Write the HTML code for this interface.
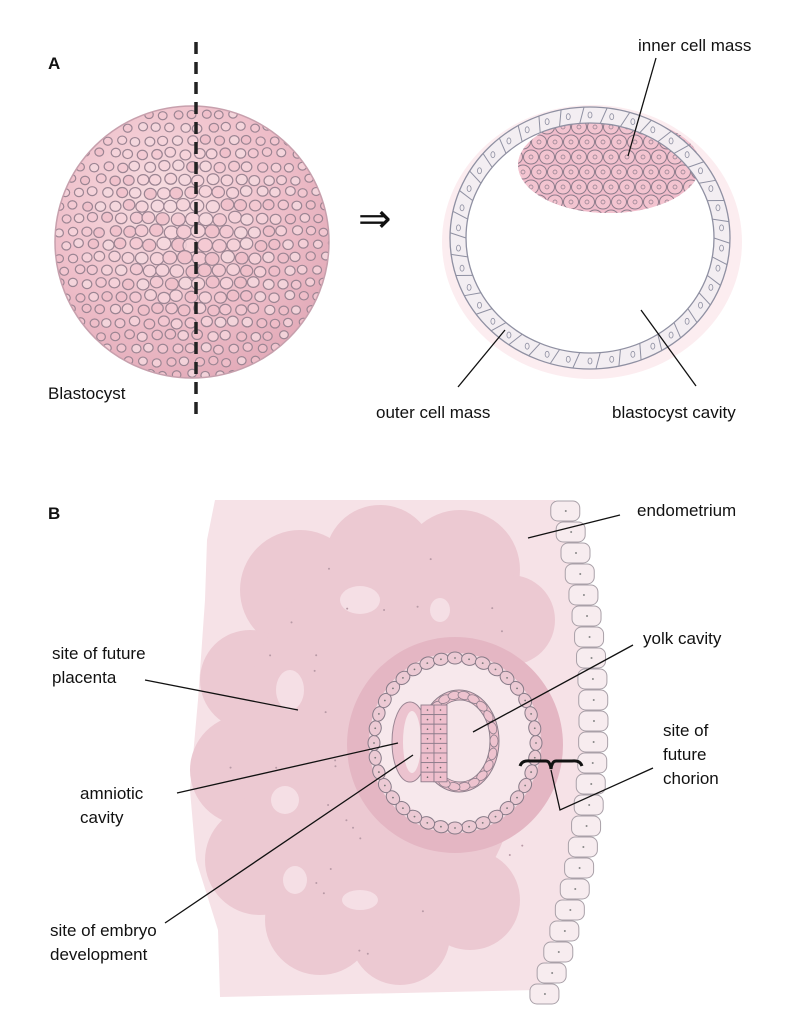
<!DOCTYPE html>
<html><head><meta charset="utf-8"><style>
html,body{margin:0;padding:0;background:#fff;}
svg{display:block;}
text{font-family:"Liberation Sans",sans-serif;font-size:17px;fill:#111;}
</style></head><body>
<svg id="s" width="808" height="1024" viewBox="0 0 808 1024" xmlns="http://www.w3.org/2000/svg">
<defs>
<clipPath id="sph"><ellipse cx="192" cy="242" rx="137" ry="136"/></clipPath>
<clipPath id="icm"><ellipse cx="609" cy="165" rx="91" ry="48"/></clipPath>
<radialGradient id="sg" cx="0.4" cy="0.35" r="0.7">
<stop offset="0" stop-color="#f7dfe2"/><stop offset="0.6" stop-color="#efbfca"/><stop offset="1" stop-color="#e2aab8"/></radialGradient>
</defs>
<!-- Section A -->
<text x="48" y="69" style="font-weight:bold">A</text>
<ellipse cx="192" cy="242" rx="137" ry="136" fill="url(#sg)"/>
<g id="sphcells" clip-path="url(#sph)"></g>
<ellipse cx="192" cy="242" rx="137" ry="136" fill="none" stroke="#c7a0ad" stroke-width="1.5"/>
<line x1="196" y1="42" x2="196" y2="418" stroke="#222" stroke-width="3.5" stroke-dasharray="12,8"/>
<text x="48" y="399">Blastocyst</text>
<text x="358" y="232" style="font-size:40px">⇒</text>

<ellipse cx="592" cy="242" rx="150" ry="137" fill="#fcedf0"/>
<ellipse cx="590" cy="238" rx="132" ry="123" fill="#fff"/>
<ellipse cx="609" cy="165" rx="91" ry="48" fill="#f1bccb"/>
<g id="icmcells" clip-path="url(#icm)"></g>
<ellipse cx="590" cy="238" rx="132" ry="123" fill="none" stroke="#f3eef2" stroke-width="16"/>
<ellipse cx="590" cy="238" rx="140" ry="131" fill="none" stroke="#8f90a2" stroke-width="1.3"/>
<ellipse cx="590" cy="238" rx="124" ry="115" fill="none" stroke="#8f90a2" stroke-width="1.3"/>
<g id="ring"></g>
<text x="638" y="51">inner cell mass</text>
<line x1="656" y1="58" x2="628" y2="156" stroke="#111" stroke-width="1.3"/>
<text x="376" y="418">outer cell mass</text>
<line x1="458" y1="387" x2="505" y2="330" stroke="#111" stroke-width="1.3"/>
<text x="612" y="418">blastocyst cavity</text>
<line x1="696" y1="386" x2="641" y2="310" stroke="#111" stroke-width="1.3"/>

<!-- Section B -->
<text x="48" y="519" style="font-weight:bold">B</text>
<path id="bg" fill="#f6e2e7"/>
<g id="blob" fill="#ecc9d2"></g>
<g id="holes" fill="#f5dfe5"></g>
<g id="dots" fill="#b89aa6"></g>
<ellipse cx="455" cy="745" rx="108" ry="108" fill="#e4b6c3"/>
<ellipse cx="455" cy="743" rx="86" ry="90" fill="#f4dde4" />
<ellipse cx="455" cy="743" rx="76" ry="80" fill="#f7e8ec"/>
<g id="outring"></g>
<ellipse cx="459" cy="741" rx="40" ry="51" fill="#ecbfcc" stroke="#8e7f8c" stroke-width="1"/>
<ellipse cx="460" cy="741" rx="30" ry="41" fill="#f6e6ea" stroke="#8e7f8c" stroke-width="1"/>
<g id="yolkring"></g>
<ellipse cx="410" cy="742" rx="18" ry="40" fill="#ecc3cf" stroke="#9a8593" stroke-width="1"/>
<ellipse cx="412" cy="742" rx="9" ry="31" fill="#f6e6ea"/>
<g id="amn"></g>
<g id="endo"></g>

<text x="637" y="516">endometrium</text>
<line x1="620" y1="515" x2="528" y2="538" stroke="#111" stroke-width="1.3"/>
<text x="643" y="644">yolk cavity</text>
<line x1="633" y1="645" x2="473" y2="732" stroke="#111" stroke-width="1.3"/>
<text x="663" y="736">site of</text>
<text x="663" y="760">future</text>
<text x="663" y="784">chorion</text>
<path d="M520,766 q2,-6 10,-5 h16 q4,0 5,8 q1,-8 5,-8 h16 q8,-1 10,5" fill="none" stroke="#111" stroke-width="3"/>
<polyline points="551,770 560,810 653,768" fill="none" stroke="#111" stroke-width="1.3"/>
<text x="52" y="659">site of future</text>
<text x="52" y="683">placenta</text>
<line x1="145" y1="680" x2="298" y2="710" stroke="#111" stroke-width="1.3"/>
<text x="80" y="799">amniotic</text>
<text x="80" y="823">cavity</text>
<line x1="177" y1="793" x2="398" y2="743" stroke="#111" stroke-width="1.3"/>
<text x="50" y="936">site of embryo</text>
<text x="50" y="960">development</text>
<line x1="165" y1="923" x2="413" y2="755" stroke="#111" stroke-width="1.3"/>
</svg>
<script>
var NS="http://www.w3.org/2000/svg";
function el(p,t,a){var e=document.createElementNS(NS,t);for(var k in a)e.setAttribute(k,a[k]);document.getElementById(p).appendChild(e);return e;}
var seed=7;function rnd(){seed=(seed*16807)%2147483647;return seed/2147483647;}
for(var y=100;y<385;y+=13){for(var x=50;x<335;x+=14){
 var cx=x+((Math.floor(y/13))%2)*7+rnd()*3,cy=y+rnd()*3;
 var dx=(cx-192)/137,dy=(cy-242)/136,d=Math.sqrt(dx*dx+dy*dy);if(d>1.05)continue;
 var s=(1-d*0.5);
 var pink=["#f6d4db","#f3c9d2","#f0bfca","#f5d8de"][Math.floor(rnd()*4)];
 el("sphcells","ellipse",{cx:cx,cy:cy,rx:6.8*s+0.8,ry:6.2*s+0.8,fill:pink,stroke:"#9c8593","stroke-width":1.2,"fill-opacity":0.85});
}}
for(var y=112;y<220;y+=15){for(var x=515;x<705;x+=16){
 var cx=x+((Math.floor(y/15))%2)*8,cy=y;
 el("icmcells","ellipse",{cx:cx,cy:cy,rx:7.5,ry:7,fill:"#f3c4d0",stroke:"#8e7d8c","stroke-width":1});
 el("icmcells","circle",{cx:cx,cy:cy,r:2,fill:"none",stroke:"#8e7d8c","stroke-width":0.7});
}}
for(var i=0;i<38;i++){var a=i/38*2*Math.PI;
 var x1=590+124*Math.cos(a),y1=238+115*Math.sin(a),x2=590+140*Math.cos(a+0.04),y2=238+131*Math.sin(a+0.04);
 el("ring","line",{x1:x1,y1:y1,x2:x2,y2:y2,stroke:"#8f90a2","stroke-width":1});
 var am=a+Math.PI/38;el("ring","ellipse",{cx:590+132*Math.cos(am),cy:238+123*Math.sin(am),rx:2,ry:3,fill:"none",stroke:"#8f90a2","stroke-width":0.8});
}
var bgd="M215,500 L545,500 ";
function xl(y){
 var y0=500,y1=757,y2=990,x0=550,x1=580,x2=533;
 return x0*(y-y1)*(y-y2)/((y0-y1)*(y0-y2))+x1*(y-y0)*(y-y2)/((y1-y0)*(y1-y2))+x2*(y-y0)*(y-y1)/((y2-y0)*(y2-y1));}
for(var y=500;y<=995;y+=10)bgd+="L"+(xl(y)+5)+","+y+" ";
bgd+="L220,997 L218,930 L196,860 L190,790 L198,700 L205,600 L207,540 Z";
document.getElementById("bg").setAttribute("d",bgd);
var lobes=[[300,590,60],[380,560,55],[460,570,60],[510,620,45],[250,680,50],[245,770,55],[260,860,55],[320,920,55],[400,935,50],[470,900,50],[340,640,50],[330,760,50],[360,860,45]];
lobes.forEach(function(l){el("blob","circle",{cx:l[0],cy:l[1],r:l[2]});});
el("blob","ellipse",{cx:380,cy:750,rx:140,ry:190});
[[360,600,20,14],[290,690,14,20],[285,800,14,14],[295,880,12,14],[360,900,18,10],[440,610,10,12]].forEach(function(h){el("holes","ellipse",{cx:h[0],cy:h[1],rx:h[2],ry:h[3]});});
for(var i=0;i<70;i++){var a=rnd()*6.28,r=rnd();var x=385+170*r*Math.cos(a),y=750+210*r*Math.sin(a);el("dots","circle",{cx:x,cy:y,r:1});}
for(var i=0;i<36;i++){var a=i/36*2*Math.PI;
 el("outring","ellipse",{cx:455+81*Math.cos(a),cy:743+85*Math.sin(a),rx:7.5,ry:6,fill:"#eccad4",stroke:"#877b88","stroke-width":1,transform:"rotate("+(a*57.3+90)+" "+(455+81*Math.cos(a))+" "+(743+85*Math.sin(a))+")"});
 el("outring","circle",{cx:455+81*Math.cos(a),cy:743+85*Math.sin(a),r:0.9,fill:"#777"});}
for(var i=0;i<22;i++){var a=i/22*2*Math.PI;
 var cx=459+35*Math.cos(a),cy=741+46*Math.sin(a);
 el("yolkring","ellipse",{cx:cx,cy:cy,rx:6,ry:4,fill:"#eec3cf",stroke:"#8e7f8c","stroke-width":0.8,transform:"rotate("+(a*57.3+90)+" "+cx+" "+cy+")"});}
for(var r=0;r<8;r++)for(var c=0;c<2;c++){
 el("amn","rect",{x:421+c*13,y:705+r*9.6,width:13,height:9.6,fill:"#efbfcd",stroke:"#8e7d8c","stroke-width":0.9});
 el("amn","circle",{cx:427.5+c*13,cy:710+r*9.6,r:0.8,fill:"#666"});}
for(var y=500;y<990;y+=21){var x=xl(y+10);
 el("endo","rect",{x:x-2,y:y+1,width:29,height:20,rx:7,fill:"#f7ecef",stroke:"#a9a0a8","stroke-width":1});
 el("endo","circle",{cx:x+13,cy:y+11,r:1,fill:"#888"});}
</script>
</body></html>
